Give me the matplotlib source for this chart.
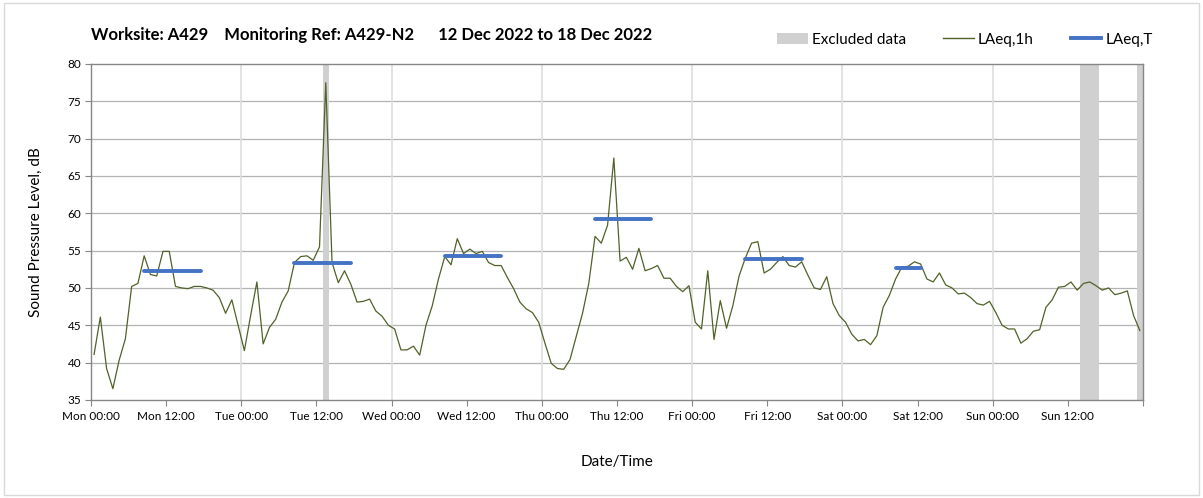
import matplotlib
matplotlib.use('Agg')
import matplotlib.pyplot as plt
from matplotlib.patches import Rectangle, Patch
from matplotlib.lines import Line2D
import numpy as np

plt.rcParams['font.family'] = ['Lato', 'DejaVu Sans']

days = ['Mon', 'Tue', 'Wed', 'Thu', 'Fri', 'Sat', 'Sun']

# hourly LAeq,1h, Mon 00:00 onwards (168 hours)
laeq_1h = [
    41.1, 46.1, 39.2, 36.5, 40.3, 43.2, 50.2, 50.6, 54.3, 51.8, 51.6, 54.9,
    54.9, 50.2, 50.0, 49.9, 50.2, 50.2, 50.0, 49.7, 48.7, 46.6, 48.4, 45.0,
    41.6, 46.3, 50.8, 42.5, 44.7, 45.8, 48.1, 49.6, 53.4, 54.2, 54.3, 53.7,
    55.5, 77.5, 53.4, 50.7, 52.3, 50.5, 48.1, 48.2, 48.5, 46.9, 46.2, 45.0,
    44.5, 41.7, 41.7, 42.2, 41.0, 45.0, 47.6, 51.2, 54.2, 53.1, 56.6, 54.6,
    55.2, 54.6, 54.9, 53.4, 53.0, 53.0, 51.4, 49.9, 48.1, 47.2, 46.7, 45.4,
    42.6, 39.9, 39.2, 39.1, 40.4, 43.5, 46.6, 50.6, 56.9, 56.0, 58.4, 67.4,
    53.6, 54.1, 52.5, 55.3, 52.3, 52.6, 53.0, 51.3, 51.3, 50.2, 49.5, 50.3,
    45.4, 44.5, 52.3, 43.1, 48.3, 44.6, 47.6, 51.6, 54.0, 56.0, 56.2, 52.0,
    52.5, 53.4, 54.2, 53.0, 52.8, 53.5, 51.7, 50.0, 49.8, 51.5, 47.9, 46.3,
    45.4, 43.8, 42.9, 43.1, 42.4, 43.6, 47.4, 49.0, 51.2, 52.8, 52.9, 53.5,
    53.2, 51.2, 50.8, 52.0, 50.4, 50.0, 49.2, 49.3, 48.7, 47.9, 47.7, 48.2,
    46.7, 45.0, 44.5, 44.5, 42.6, 43.2, 44.2, 44.4, 47.4, 48.4, 50.1, 50.2,
    50.8, 49.7, 50.6, 50.8, 50.3, 49.7, 50.0, 49.1, 49.3, 49.6, 46.3, 44.3,
]

# daytime LAeq,T: first hour, last hour, level
laeq_t_start = [8, 32, 56, 80, 104, 128]
laeq_t_end = [17, 41, 65, 89, 113, 132]
laeq_t_value = [52.3, 53.3, 54.3, 59.2, 53.9, 52.7]

excluded_hours = [37, 158, 159, 160, 167]

title = 'Worksite: A429    Monitoring Ref: A429-N2      12 Dec 2022 to 18 Dec 2022'

fig = plt.figure(figsize=(12.03, 4.98), dpi=100)
ax = fig.add_axes([0.0756, 0.197, 0.8745, 0.6745])

fig.patches.append(Rectangle((0.003, 0.006), 0.994, 0.988, transform=fig.transFigure,
                             fill=False, edgecolor='#d9d9d9', lw=1))

for h in excluded_hours:
    ax.axvspan(h, h + 1, color='#d0d0d0', lw=0, zorder=1)

x = np.arange(len(laeq_1h)) + 0.5
ax.plot(x, laeq_1h, color='#4f6228', lw=0.9, zorder=3)

for s, e, v in zip(laeq_t_start, laeq_t_end, laeq_t_value):
    ax.plot([s + 0.5, e + 0.5], [v, v], color='#4472c4', lw=2.8,
            solid_capstyle='round', zorder=4)

ax.set_xlim(0, 168)
ax.set_ylim(35, 80)
ax.set_yticks(np.arange(35, 81, 5))
ax.set_xticks(np.arange(0, 169, 12))
xlabels = []
for d in days:
    xlabels += [f'{d} 00:00', f'{d} 12:00']
xlabels.append('')
ax.set_xticklabels(xlabels, fontsize=8.5)
ax.tick_params(axis='y', labelsize=8.5, length=4, color='#868686', pad=3)
ax.tick_params(axis='x', length=4, color='#868686', pad=4)

for yv in np.arange(40, 80, 5):
    ax.axhline(yv, color='#b3b3b3', lw=0.9, zorder=0)
for dv in range(24, 168, 24):
    ax.axvline(dv, color='#dedede', lw=1.2, zorder=0)

for sp in ax.spines.values():
    sp.set_color('#868686')
    sp.set_linewidth(1)

ax.set_ylabel('Sound Pressure Level, dB', fontsize=11, labelpad=18)
ax.set_xlabel('Date/Time', fontsize=11, labelpad=24)

fig.text(0.0756, 0.93, title, fontsize=12, fontweight='bold', va='center', ha='left')

handles = [Patch(facecolor='#d0d0d0', edgecolor='none'),
           Line2D([], [], color='#4f6228', lw=1),
           Line2D([], [], color='#4472c4', lw=2.8)]
fig.legend(handles, ['Excluded data', 'LAeq,1h', 'LAeq,T'], ncol=3, frameon=False,
           loc='center right', bbox_to_anchor=(0.97, 0.92), fontsize=11,
           handlelength=2.0, handletextpad=0.3, columnspacing=2.4)

fig.savefig('out.png', dpi=100)
